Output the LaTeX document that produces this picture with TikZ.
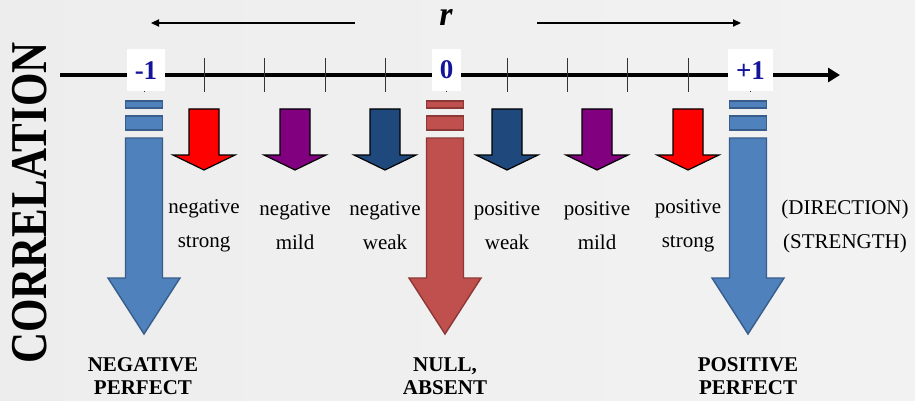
\documentclass[tikz,border=0pt]{standalone}
\usepackage{fontspec}
\setmainfont{Liberation Serif}[
  BoldFont={Liberation Serif Bold},
  ItalicFont={Liberation Serif Italic},
  BoldItalicFont={Liberation Serif Bold Italic}]
\usepackage{xcolor}
\usepackage{tikz}
\usetikzlibrary{positioning, arrows.meta, calc}

\definecolor{barblue}{HTML}{4F81BD}
\definecolor{barblueline}{HTML}{385D8A}
\definecolor{barred}{HTML}{C0504D}
\definecolor{barredline}{HTML}{8C3836}
\definecolor{navyarrow}{HTML}{1F497D}
\definecolor{purplearrow}{HTML}{800080}
\definecolor{valueblue}{HTML}{14149A}

\begin{document}
\begin{tikzpicture}[
  x=0.5pt, y=-0.5pt,
  axis/.style={
    line width=2pt, draw=black, -{Triangle[length=6pt,width=7pt]}
  },
  ticker/.style={draw=black!80, line width=0.5pt},
  rarrow/.style={
    draw=black, line width=0.6pt, -{Triangle[length=4pt,width=3.6pt]}
  },
  valbox/.style={
    rectangle, fill=white, inner xsep=4pt, inner ysep=0pt,
    minimum height=21pt, text=valueblue,
    font=\fontsize{13.5}{13.5}\selectfont\bfseries
  },
  bigbar/.style={line width=0.7pt},
  smallarrow/.style={draw=black, line width=0.6pt},
  word/.style={
    align=center, inner sep=0pt, font=\fontsize{10.5}{17}\selectfont
  },
  verdict/.style={
    align=center, inner sep=0pt, font=\fontsize{10.5}{11.5}\selectfont\bfseries
  }
]
\useasboundingbox (0,0) rectangle (915,401);

% Background
\shade[left color=black!7, middle color=white!98!black, right color=black!5]
  (0,0) rectangle (915,401);

% Title on the left
\node[rotate=90, inner sep=0pt, font=\fontsize{21.5}{21.5}\selectfont\bfseries]
  (title) at (30,203) {\scalebox{1}[1.2]{CORRELATION}};

% r with its two direction arrows
\node[inner sep=0pt, font=\fontsize{17}{17}\selectfont\bfseries\itshape]
  (rlabel) at (446,17) {r};
\coordinate (rleftstart) at (355,23);
\coordinate (rleftend) at (151,23);
\coordinate (rrightstart) at (537,23);
\coordinate (rrightend) at (741,23);
\draw[rarrow] (rleftstart) -- (rleftend);
\draw[rarrow] (rrightstart) -- (rrightend);

% Axis and ticks
\coordinate (axisstart) at (60,75);
\coordinate (axisend) at (840,75);
\draw[axis] (axisstart) -- (axisend);
\foreach \tx in {144,204,264,325,385,446,507,567,627,688,750}
  \draw[ticker] (\tx,58) -- (\tx,92);

% Values on the axis
\node[valbox] (vminus) at (146,70.5) {-1};
\node[valbox] (vzero) at (446.5,70) {0};
\node[valbox] (vplus) at (750.5,70.5) {+1};

% Big arrows: perfect and null
\foreach \bx/\fc/\lc in {144/barblue/barblueline, 445/barred/barredline, 748/barblue/barblueline} {
  \filldraw[bigbar, fill=\fc, draw=\lc] (\bx-18.5,101) rectangle (\bx+18.5,108);
  \filldraw[bigbar, fill=\fc, draw=\lc] (\bx-18.5,116) rectangle (\bx+18.5,130);
  \filldraw[bigbar, fill=\fc, draw=\lc]
    (\bx-18.5,138) -- (\bx+18.5,138) -- (\bx+18.5,278) -- (\bx+36,278)
    -- (\bx,334) -- (\bx-36,278) -- (\bx-18.5,278) -- cycle;
}

% Small arrows: strength
\foreach \sx/\fc in {204/red, 295/purplearrow, 385/navyarrow, 507/navyarrow, 597/purplearrow, 688/red} {
  \filldraw[smallarrow, fill=\fc]
    (\sx-15,109) -- (\sx+15,109) -- (\sx+15,155) -- (\sx+31,155)
    -- (\sx,170) -- (\sx-31,155) -- (\sx-15,155) -- cycle;
}

% Direction / strength words
\node[word] (negstrong) at (204,226) {negative\\strong};
\node[word] (negmild) at (295,226) {negative\\mild};
\node[word] (negweak) at (385,226) {negative\\weak};
\node[word] (posweak) at (507,226) {positive\\weak};
\node[word] (posmild) at (597,226) {positive\\mild};
\node[word] (posstrong) at (688,226) {positive\\strong};
\node[word] (legendwords) at (845,226) {(DIRECTION)\\(STRENGTH)};

% Bottom verdicts
\node[verdict] (negperfect) at (143,376) {NEGATIVE\\PERFECT};
\node[verdict] (nullabsent) at (445,376) {NULL,\\ABSENT};
\node[verdict] (posperfect) at (748,376) {POSITIVE\\PERFECT};

\end{tikzpicture}
\end{document}
